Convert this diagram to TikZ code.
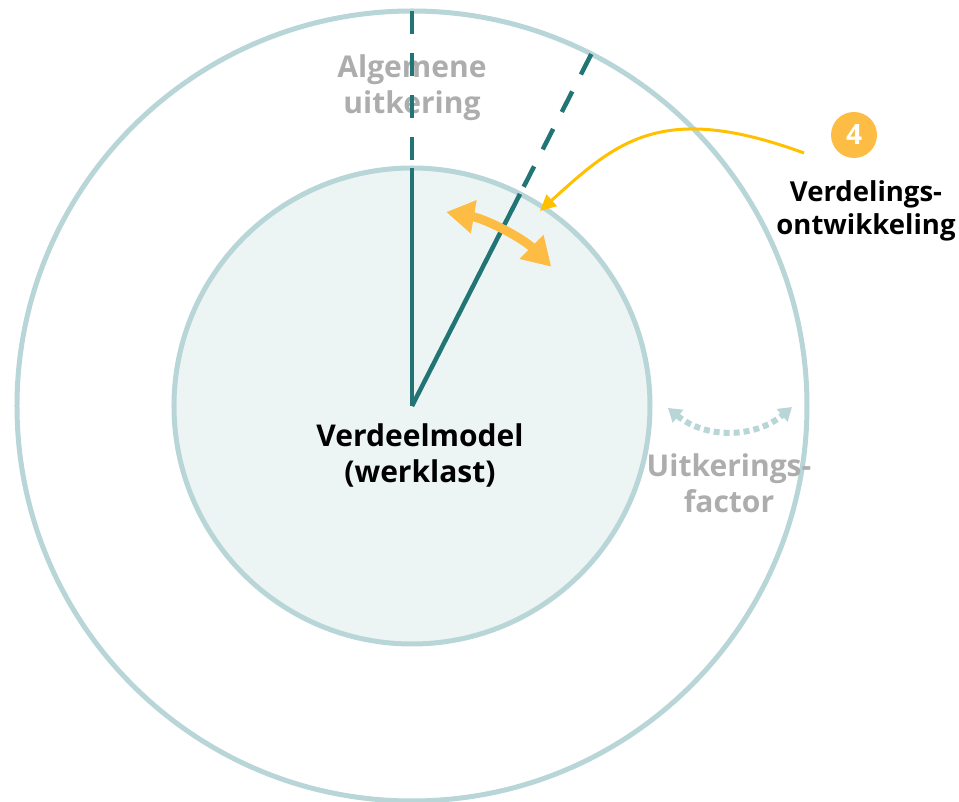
\documentclass[tikz,border=0pt]{standalone}
\usepackage{fontspec}
\setmainfont{Open Sans}
\usetikzlibrary{arrows.meta}
\usetikzlibrary{positioning}
\definecolor{ring}{HTML}{B8D5D7}
\definecolor{core}{HTML}{EDF5F4}
\definecolor{teal}{HTML}{217575}
\definecolor{amber}{HTML}{FDBD45}
\definecolor{gold}{HTML}{FFC000}
\definecolor{mute}{HTML}{ADADAD}
\tikzset{
  band/.style={circle, draw=ring, line width=5pt, inner sep=0pt, outer sep=0pt},
  spoke/.style={draw=teal, line width=4.5pt},
  spokedash/.style={spoke, dash pattern=on 23pt off 19pt},
  lbl/.style={font=\bfseries\fontsize{30}{36}\selectfont, align=center},
  greylbl/.style={lbl, text=mute},
}
\begin{document}
\begin{tikzpicture}[x=1pt,y=1pt]
\useasboundingbox (-412,-396) rectangle (547,406);
\node[band, minimum size=790pt] (outer) at (0,0) {};
\node[band, fill=core, minimum size=476pt] (inner) at (0,0) {};
\coordinate (c) at (0,0);
\node[greylbl] (alg) at (0,318) {Algemene\\uitkering};
\draw[spoke] (c) -- (inner.90);
\draw[spoke] (c) -- (inner.63);
\draw[spokedash] (outer.90) -- (inner.90);
\draw[spokedash] (outer.63) -- (inner.63);
\node[lbl] (model) at (8,-49) {Verdeelmodel\\(werklast)};
\node[greylbl] (fac) at (317,-77) {Uitkerings-\\factor};
\coordinate (fl) at (256,-2);
\coordinate (fr) at (380,-1);
\draw[ring, line width=6pt, dash pattern=on 6pt off 4pt,
  {Triangle[length=13pt,width=16pt]}-{Triangle[length=13pt,width=16pt]}]
  (fl) to[bend right=40] (fr);
\draw[amber, line width=9pt, {Triangle[length=28pt,width=32pt]}-{Triangle[length=28pt,width=32pt]}]
  (80:197) arc[start angle=80, end angle=45, radius=197];
\node[circle, fill=amber, minimum size=46pt, inner sep=0pt, text=white,
  font=\bfseries\fontsize{28}{28}\selectfont] (four) at (442,271) {4};
\node[lbl, font=\bfseries\fontsize{27.5}{33}\selectfont] (dev) at (454,195) {Verdelings-\\ontwikkeling};
\coordinate (tail) at (392,253);
\coordinate (tip) at (128,195);
\draw[gold, line width=3pt, -{Triangle[length=16pt,width=15pt]}]
  (tail) .. controls (250,305) and (205,265) .. (tip);
\end{tikzpicture}
\end{document}
